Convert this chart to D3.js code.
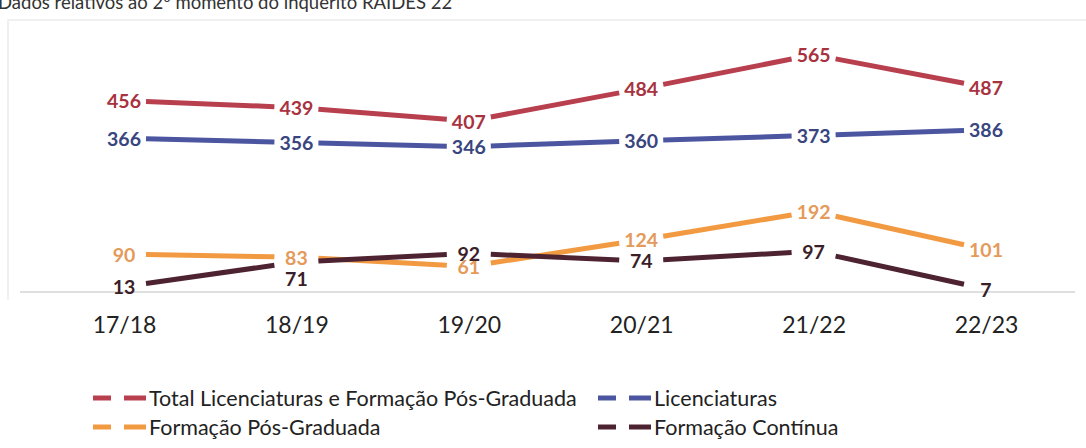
<!DOCTYPE html>
<html>
<head>
<meta charset="utf-8">
<script src="https://cdn.jsdelivr.net/npm/d3@7"></script>
<style>
  body { margin: 0; background: #fff; }
  svg { display: block; font-family: Lato, "Open Sans", sans-serif; }
</style>
</head>
<body>
<div id="chart"></div>
<script>
// values
var years = ["17/18", "18/19", "19/20", "20/21", "21/22", "22/23"];
var totalLic = [456, 439, 407, 484, 565, 487];
var licenciaturas = [366, 356, 346, 360, 373, 386];
var posGraduada = [90, 83, 61, 124, 192, 101];
var continua = [13, 71, 92, 74, 97, 7];

var seriesNames = ["Total Licenciaturas e Formação Pós-Graduada", "Licenciaturas",
    "Formação Pós-Graduada", "Formação Contínua"];

var width = 1086, height = 448;

var svg = d3.select("#chart").append("svg")
    .attr("width", width)
    .attr("height", height);

var x = d3.scalePoint().domain(years).range([124, 986]);
var y = d3.scaleLinear().domain([0, 600]).range([292, 40]);

// faint frame of the scanned box
svg.append("path")
    .attr("d", "M8,300 V20 H1086")
    .attr("fill", "none")
    .attr("stroke", "#ececec")
    .attr("stroke-width", 1.5);

// caption, cut at the top in the scan
svg.append("text")
    .attr("x", -2)
    .attr("y", 9)
    .attr("font-size", 18.5)
    .attr("fill", "#333")
    .text("Dados relativos ao 2º momento do inquérito RAIDES 22");

// baseline
svg.append("line")
    .attr("x1", 20).attr("x2", 1075)
    .attr("y1", y(0)).attr("y2", y(0))
    .attr("stroke", "#d4d4d4")
    .attr("stroke-width", 1.5);

var series = [
    {name: seriesNames[0], values: totalLic, line: "#b83f4e", label: "#a8323f"},
    {name: seriesNames[1], values: licenciaturas, line: "#4b55a0", label: "#39457f"},
    {name: seriesNames[2], values: posGraduada, line: "#f29a42", label: "#e49a5a"},
    {name: seriesNames[3], values: continua, line: "#4e2331", label: "#3a1e28"}
];

// Excel moved this one label below its point
var labelShift = {"3-1": 16};

var gap = 22;
series.forEach(function (s) {
    var g = svg.append("g");
    for (var i = 0; i < years.length - 1; i++) {
        var x0 = x(years[i]), y0 = y(s.values[i]);
        var x1 = x(years[i + 1]), y1 = y(s.values[i + 1]);
        var t0 = gap / (x1 - x0), t1 = 1 - t0;
        g.append("line")
            .attr("x1", x0 + (x1 - x0) * t0).attr("y1", y0 + (y1 - y0) * t0)
            .attr("x2", x0 + (x1 - x0) * t1).attr("y2", y0 + (y1 - y0) * t1)
            .attr("stroke", s.line)
            .attr("stroke-width", 5);
    }
});

series.forEach(function (s, si) {
    svg.append("g").selectAll("text")
        .data(s.values)
        .enter().append("text")
        .attr("x", function (d, i) { return x(years[i]); })
        .attr("y", function (d, i) { return y(d) + (labelShift[si + "-" + i] || 0); })
        .attr("text-anchor", "middle")
        .attr("dominant-baseline", "central")
        .attr("font-size", 19.5)
        .attr("font-weight", "bold")
        .attr("fill", s.label)
        .text(function (d) { return d; });
});

// category axis
var xAxis = svg.append("g")
    .attr("transform", "translate(0," + y(0) + ")")
    .call(d3.axisBottom(x).tickSize(0).tickPadding(25));
xAxis.select(".domain").remove();
xAxis.selectAll("text")
    .attr("font-family", "Lato, 'Open Sans', sans-serif")
    .attr("font-size", 23)
    .attr("fill", "#222");

// legend
var legendPos = [[93, 398], [598, 398], [93, 427], [598, 427]];
series.forEach(function (s, i) {
    var lg = svg.append("g")
        .attr("transform", "translate(" + legendPos[i][0] + "," + legendPos[i][1] + ")");
    lg.append("line").attr("x1", 0).attr("x2", 18).attr("y1", 0).attr("y2", 0)
        .attr("stroke", s.line).attr("stroke-width", 5);
    lg.append("line").attr("x1", 31).attr("x2", 53).attr("y1", 0).attr("y2", 0)
        .attr("stroke", s.line).attr("stroke-width", 5);
    lg.append("text")
        .attr("x", 56)
        .attr("y", 0)
        .attr("dominant-baseline", "central")
        .attr("font-size", 21.5)
        .attr("fill", "#222")
        .text(s.name);
});
</script>
</body>
</html>
